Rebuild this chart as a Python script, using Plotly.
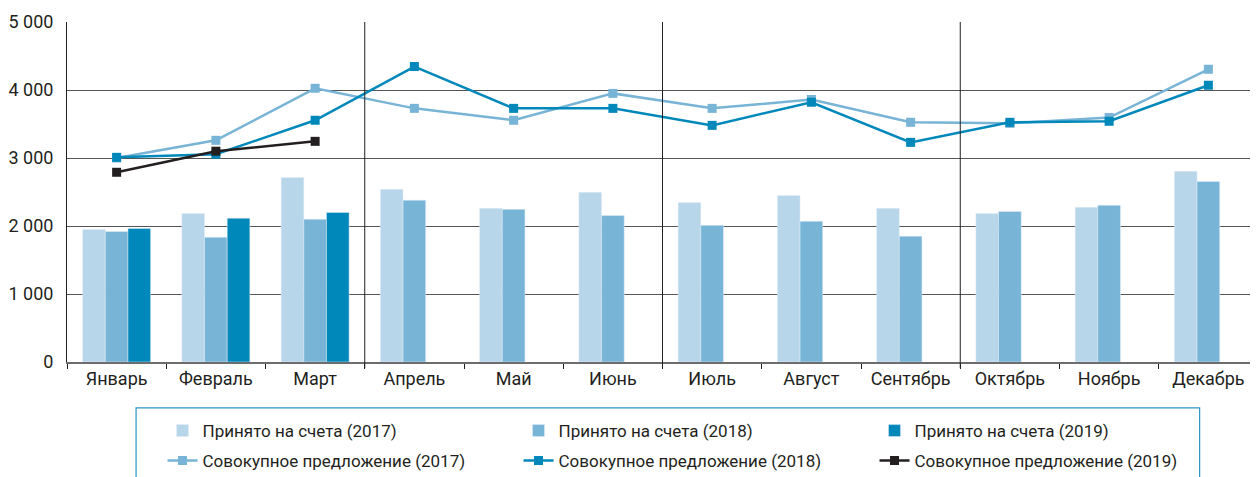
import plotly.graph_objects as go

months = ["Январь", "Февраль", "Март", "Апрель", "Май", "Июнь",
          "Июль", "Август", "Сентябрь", "Октябрь", "Ноябрь", "Декабрь"]

accepted_2017 = [1950, 2185, 2715, 2540, 2260, 2495, 2345, 2450, 2260, 2185, 2275, 2805]
accepted_2018 = [1920, 1835, 2100, 2380, 2245, 2155, 2010, 2070, 1850, 2215, 2305, 2655]
accepted_2019 = [1965, 2115, 2200, None, None, None, None, None, None, None, None, None]

supply_2017 = [3000, 3260, 4025, 3730, 3555, 3950, 3730, 3860, 3525, 3510, 3595, 4305]
supply_2018 = [3010, 3055, 3555, 4345, 3730, 3730, 3480, 3820, 3230, 3525, 3540, 4070]
supply_2019 = [2790, 3100, 3245, None, None, None, None, None, None, None, None, None]

quarter_starts = [3, 6, 9]

C17 = "#b7d6ea"
C18 = "#77b4d6"
C19 = "#0088bb"
CBLK = "#231f20"

fig = go.Figure()
fig.add_trace(go.Bar(x=months, y=accepted_2017, name="Принято на счета (2017)", marker_color=C17, legend="legend"))
fig.add_trace(go.Bar(x=months, y=accepted_2018, name="Принято на счета (2018)", marker_color=C18, legend="legend"))
fig.add_trace(go.Bar(x=months, y=accepted_2019, name="Принято на счета (2019)", marker_color=C19, legend="legend"))

for vals, col, nm in [(supply_2017, C18, "Совокупное предложение (2017)"),
                      (supply_2018, C19, "Совокупное предложение (2018)"),
                      (supply_2019, CBLK, "Совокупное предложение (2019)")]:
    fig.add_trace(go.Scatter(x=months, y=vals, name=nm, mode="lines+markers",
                             line=dict(color=col, width=2.5),
                             marker=dict(symbol="square", size=9, color=col),
                             legend="legend2"))

for q in quarter_starts:
    fig.add_shape(type="line", xref="x", yref="paper", x0=q - 0.5, x1=q - 0.5,
                  y0=-0.018, y1=1, line=dict(color=CBLK, width=1), layer="above")

# legend frame
fig.add_shape(type="rect", xref="paper", yref="paper", x0=0.058, x1=0.951,
              y0=-0.5, y1=-0.135, line=dict(color="#2b95c4", width=1.2),
              fillcolor="rgba(0,0,0,0)", layer="below")

leg_common = dict(orientation="h", xanchor="left", yanchor="middle",
                  entrywidth=311, entrywidthmode="pixels",
                  font=dict(size=17, color=CBLK), bgcolor="rgba(0,0,0,0)",
                  borderwidth=0, traceorder="normal")

# page body has an 8px default margin: size the figure so the plot area
# lands where the reference has it
fig.update_layout(
    width=1250, height=469,
    margin=dict(l=59, r=0, t=14, b=115, autoexpand=False),
    plot_bgcolor="white", paper_bgcolor="white",
    barmode="group", bargap=0.315, bargroupgap=0,
    separators=", ",
    font=dict(family="Roboto, Arial, sans-serif", size=18, color=CBLK),
    showlegend=True,
    legend=dict(x=0.0802, y=-0.203, **leg_common),
    legend2=dict(x=0.0802, y=-0.291, **leg_common),
)
fig.update_xaxes(range=[-0.5, len(months) - 0.5], showgrid=False, showline=True,
                 linecolor="#6d6d6d", linewidth=1.5,
                 ticks="outside", tickson="boundaries", ticklen=5, tickcolor=CBLK,
                 tickfont=dict(size=18), automargin=False)
fig.update_yaxes(range=[0, 5000], dtick=1000, tickformat=",d", showgrid=True,
                 gridcolor="#555555", gridwidth=1, showline=True, linecolor=CBLK,
                 linewidth=1, zeroline=False, ticks="", ticklabelstandoff=9,
                 tickfont=dict(size=18), automargin=False)

fig.write_html("out.html")
